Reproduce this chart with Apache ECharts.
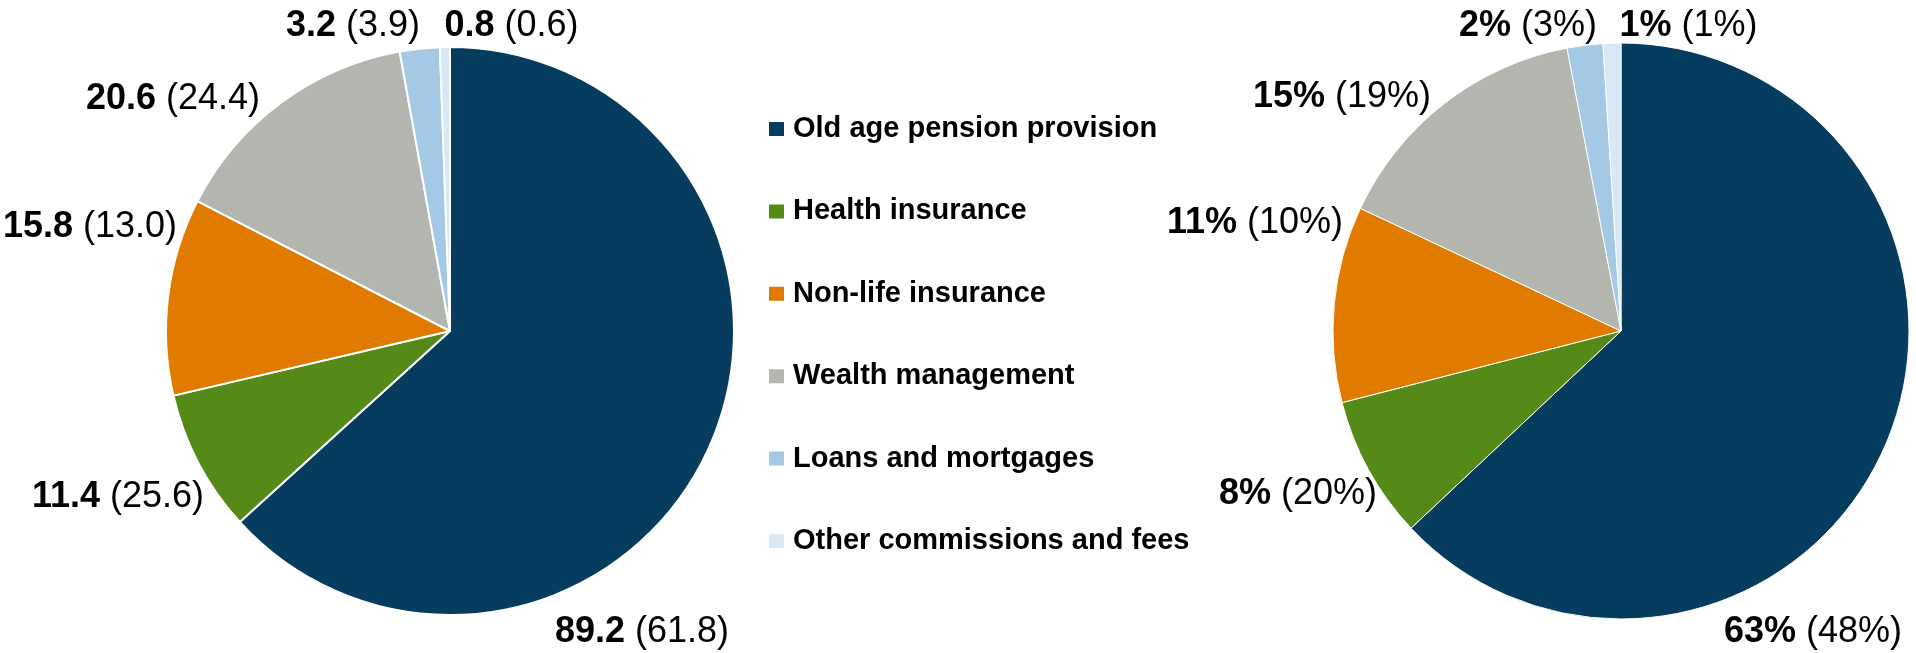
<!DOCTYPE html>
<html>
<head>
<meta charset="utf-8">
<script src="https://cdn.jsdelivr.net/npm/echarts@6/dist/echarts.min.js"></script>
<style>
  html, body { margin: 0; padding: 0; background: #ffffff; }
  #chart { width: 1916px; height: 653px; }
</style>
</head>
<body>
<div id="chart"></div>
<script>
// Business lines
const categories = [
  'Old age pension provision',
  'Health insurance',
  'Non-life insurance',
  'Wealth management',
  'Loans and mortgages',
  'Other commissions and fees'
];

// Amounts: current year, prior year in brackets
const amountCurrent = [89.2, 11.4, 15.8, 20.6, 3.2, 0.8];
const amountPrior = [61.8, 25.6, 13.0, 24.4, 3.9, 0.6];

// Shares in percent: current year, prior year in brackets
const shareCurrent = [63, 8, 11, 15, 2, 1];
const sharePrior = [48, 20, 10, 19, 3, 1];

const sliceColors = ['#063c5d', '#558a19', '#e07b00', '#b3b5af', '#a3c9e7', '#d8e8f5'];

// Layout of the two pies and their labels (offsets from the pie centre)
const leftPie = { center: [450, 331], radius: 284 };
const rightPie = { center: [1621, 331], radius: 288 };
const leftLabelOffsets = [
  [105, 301, 'left'], [-246, 166, 'right'], [-273, -104, 'right'],
  [-190, -232, 'right'], [-30, -305, 'right'], [-5.5, -305, 'left']
];
const rightLabelOffsets = [
  [103, 301, 'left'], [-244, 163, 'right'], [-278, -108, 'right'],
  [-190, -234, 'right'], [-24, -305, 'right'], [-1.5, -305, 'left']
];

const FONT = '"Liberation Sans", Arial, Helvetica, sans-serif';

const labelRich = {
  v: { fontFamily: FONT, fontSize: 36, fontWeight: 'bold', color: '#000', lineHeight: 40 },
  p: { fontFamily: FONT, fontSize: 36, fontWeight: 'normal', color: '#000', lineHeight: 40 }
};

function pieSeries(pie, values, prior, fmt, offsets, borderWidth) {
  return {
    type: 'pie',
    center: pie.center,
    radius: pie.radius,
    startAngle: 90,
    clockwise: true,
    avoidLabelOverlap: false,
    animation: false,
    silent: true,
    data: categories.map((name, i) => ({
      name: name,
      value: values[i],
      itemStyle: { color: sliceColors[i] }
    })),
    itemStyle: { borderColor: '#ffffff', borderWidth: borderWidth },
    label: {
      show: true,
      position: 'outside',
      formatter: p => '{v|' + fmt(values[p.dataIndex]) + ' }{p|(' + fmt(prior[p.dataIndex]) + ')}',
      rich: labelRich
    },
    labelLine: { show: false },
    labelLayout: params => {
      const o = offsets[params.dataIndex];
      return {
        x: pie.center[0] + o[0],
        y: pie.center[1] + o[1],
        align: o[2],
        verticalAlign: 'middle'
      };
    },
    emphasis: { disabled: true }
  };
}

const chart = echarts.init(document.getElementById('chart'), null, { renderer: 'canvas' });

chart.setOption({
  backgroundColor: '#ffffff',
  animation: false,
  legend: {
    data: categories,
    orient: 'vertical',
    left: 767,
    top: 114,
    padding: 0,
    icon: 'rect',
    itemWidth: 17,
    itemHeight: 16,
    itemGap: 52.4,
    selectedMode: false,
    textStyle: {
      fontFamily: FONT,
      fontSize: 29,
      fontWeight: 'bold',
      color: '#000',
      lineHeight: 30,
      padding: [0, 0, 0, 3]
    }
  },
  series: [
    pieSeries(leftPie, amountCurrent, amountPrior, v => v.toFixed(1), leftLabelOffsets, 2),
    pieSeries(rightPie, shareCurrent, sharePrior, v => v + '%', rightLabelOffsets, 1)
  ]
});
</script>
</body>
</html>
